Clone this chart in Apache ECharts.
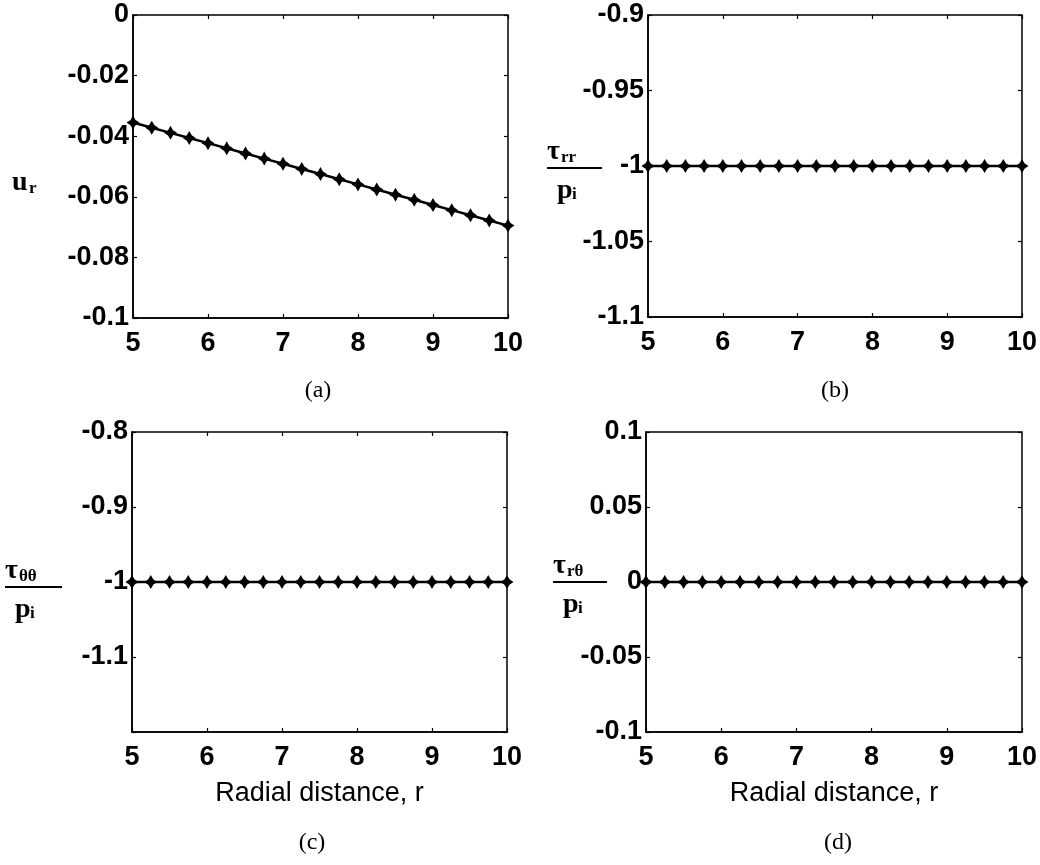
<!DOCTYPE html>
<html>
<head>
<meta charset="utf-8">
<script src="https://cdn.jsdelivr.net/npm/echarts@6/dist/echarts.min.js"></script>
<style>
  html, body { margin: 0; background: #fff; }
  #chart { width: 1040px; height: 865px; }
</style>
</head>
<body>
<div id="chart"></div>
<script>
// radial distance r (x axis, all panels)
const radius = [5, 5.25, 5.5, 5.75, 6, 6.25, 6.5, 6.75, 7, 7.25, 7.5, 7.75, 8, 8.25, 8.5, 8.75, 9, 9.25, 9.5, 9.75, 10];
// (a) radial displacement u_r
const displacement = [-0.0355, -0.0372, -0.0389, -0.0406, -0.0423, -0.0440, -0.0457, -0.0474, -0.0491, -0.0508, -0.0525,
  -0.0542, -0.0559, -0.0576, -0.0593, -0.0610, -0.0627, -0.0644, -0.0661, -0.0678, -0.0695];
// (b) tau_rr / p_i
const stressRR = [-1, -1, -1, -1, -1, -1, -1, -1, -1, -1, -1, -1, -1, -1, -1, -1, -1, -1, -1, -1, -1];
// (c) tau_theta_theta / p_i
const stressTT = [-1, -1, -1, -1, -1, -1, -1, -1, -1, -1, -1, -1, -1, -1, -1, -1, -1, -1, -1, -1, -1];
// (d) tau_r_theta / p_i
const stressRT = [0, 0, 0, 0, 0, 0, 0, 0, 0, 0, 0, 0, 0, 0, 0, 0, 0, 0, 0, 0, 0];

const panels = [
  { rect: { left: 133, top: 15, width: 375, height: 303 }, values: displacement, min: -0.1, max: 0, interval: 0.02, xName: "" },
  { rect: { left: 648, top: 15, width: 375, height: 302 }, values: stressRR, min: -1.1, max: -0.9, interval: 0.05, xName: "" },
  { rect: { left: 132, top: 432, width: 375, height: 300 }, values: stressTT, min: -1.2, max: -0.8, interval: 0.1, xName: "Radial distance, r", hideMin: true },
  { rect: { left: 646, top: 432, width: 377, height: 300 }, values: stressRT, min: -0.1, max: 0.1, interval: 0.05, xName: "Radial distance, r" },
];

const STAR = "path://M0,-6 L2.3,-2.3 L6,0 L2.3,2.3 L0,6 L-2.3,2.3 L-6,0 L-2.3,-2.3 Z";
const tickFont = { color: "#000", fontFamily: "Liberation Sans", fontWeight: "bold", fontSize: 27 };
const serif = "Liberation Serif";

const grids = [], xAxes = [], yAxes = [], series = [];
panels.forEach((p, i) => {
  grids.push({ ...p.rect, show: true, borderColor: "#000", borderWidth: 1.5, backgroundColor: "#fff" });
  const tick = { show: true, inside: true, length: 4, lineStyle: { color: "#000", width: 1.2 } };
  xAxes.push({
    gridIndex: i, type: "value", min: 5, max: 10, interval: 1,
    axisLine: { show: true, onZero: false, lineStyle: { color: "#000", width: 1.5 } },
    axisTick: tick, splitLine: { show: false },
    axisLabel: { ...tickFont, margin: 12 },
    name: p.xName, nameLocation: "middle", nameGap: 48,
    nameTextStyle: { color: "#000", fontFamily: "Liberation Sans", fontSize: 27, verticalAlign: "top" },
  });
  xAxes.push({
    gridIndex: i, type: "value", min: 5, max: 10, interval: 1, position: "top",
    axisLine: { show: false }, axisTick: tick, axisLabel: { show: false }, splitLine: { show: false },
  });
  yAxes.push({
    gridIndex: i, type: "value", min: p.min, max: p.max, interval: p.interval,
    axisLine: { show: true, onZero: false, lineStyle: { color: "#000", width: 1.5 } },
    axisTick: tick, splitLine: { show: false },
    axisLabel: {
      ...tickFont, margin: 4,
      formatter: (v) => (p.hideMin && Math.abs(v - p.min) < 1e-9 ? "" : String(+v.toFixed(4))),
    },
  });
  yAxes.push({
    gridIndex: i, type: "value", min: p.min, max: p.max, interval: p.interval, position: "right",
    axisLine: { show: false }, axisTick: tick, axisLabel: { show: false }, splitLine: { show: false },
  });
  series.push({
    type: "line", xAxisIndex: 2 * i, yAxisIndex: 2 * i,
    data: radius.map((r, k) => [r, p.values[k]]),
    clip: false, symbol: STAR, symbolSize: [13, 14],
    itemStyle: { color: "#000" },
    lineStyle: { color: "#000", width: 2.5 },
  });
});

// y labels and panel captions
function txt(x, y, s, size, align) {
  return { type: "text", x, y, style: { text: s, fontFamily: serif, fontWeight: "bold", fontSize: size, fill: "#000", align: align || "left", verticalAlign: "middle" } };
}
function frac(x, y, sub, width) {
  return [
    txt(x, y - 16, "τ", 28), txt(x + 14, y - 10, sub, 17),
    { type: "rect", shape: { x, y: y - 1, width, height: 2 }, style: { fill: "#000" } },
    txt(x + 10, y + 23, "p", 28), txt(x + 25, y + 27, "i", 17),
  ];
}
const graphic = [
  txt(12, 183, "u", 28), txt(29, 189, "r", 17),
  ...frac(547, 168, "rr", 55),
  ...frac(5, 587, "θθ", 57),
  ...frac(553, 582, "rθ", 54),
  { ...txt(318, 391, "(a)", 24, "center"), style: { text: "(a)", fontFamily: serif, fontSize: 24, fill: "#000", align: "center", verticalAlign: "middle" } },
  { ...txt(835, 391, "(b)", 24, "center"), style: { text: "(b)", fontFamily: serif, fontSize: 24, fill: "#000", align: "center", verticalAlign: "middle" } },
  { ...txt(312, 843, "(c)", 24, "center"), style: { text: "(c)", fontFamily: serif, fontSize: 24, fill: "#000", align: "center", verticalAlign: "middle" } },
  { ...txt(838, 843, "(d)", 24, "center"), style: { text: "(d)", fontFamily: serif, fontSize: 24, fill: "#000", align: "center", verticalAlign: "middle" } },
];

const chart = echarts.init(document.getElementById("chart"));
chart.setOption({
  animation: false,
  backgroundColor: "#fff",
  grid: grids,
  xAxis: xAxes,
  yAxis: yAxes,
  series,
  graphic,
});
</script>
</body>
</html>
